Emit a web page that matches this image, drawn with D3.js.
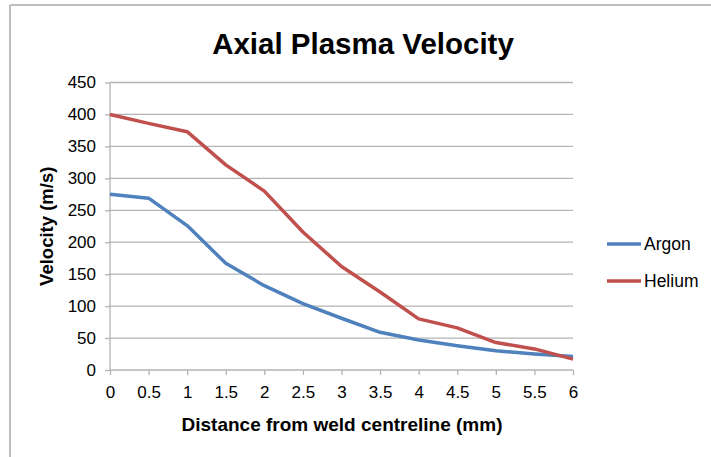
<!DOCTYPE html>
<html>
<head>
<meta charset="utf-8">
<script src="https://cdn.jsdelivr.net/npm/d3@7"></script>
<style>
  html, body { margin: 0; padding: 0; background: #fff; }
  svg { display: block; font-family: "Liberation Sans", Arial, sans-serif; }
</style>
</head>
<body>
<svg id="chart" width="711" height="457"></svg>
<script>
const distances = [0, 0.5, 1, 1.5, 2, 2.5, 3, 3.5, 4, 4.5, 5, 5.5, 6];
const argon  = [275, 269, 226, 167, 132, 104, 81, 59, 47, 38, 30, 25, 21];
const helium = [400, 386, 373, 321, 280, 216, 162, 122, 80, 66, 43, 33, 17];
const seriesNames = ["Argon", "Helium"];
const seriesColors = ["#4F81BD", "#C0504D"];
const yTicks = [0, 50, 100, 150, 200, 250, 300, 350, 400, 450];
const xTicks = [0, 0.5, 1, 1.5, 2, 2.5, 3, 3.5, 4, 4.5, 5, 5.5, 6];

const svg = d3.select("#chart");
const FONT = "Liberation Sans, Arial, sans-serif";

// outer frame (top & left visible)
svg.append("line").attr("x1", 10).attr("y1", 5).attr("x2", 711).attr("y2", 5)
  .attr("stroke", "#bdbdbd").attr("stroke-width", 2);
svg.append("line").attr("x1", 10).attr("y1", 5).attr("x2", 10).attr("y2", 457)
  .attr("stroke", "#bdbdbd").attr("stroke-width", 2);

const x = d3.scaleLinear().domain([0, 6]).range([110, 573]);
const y = d3.scaleLinear().domain([0, 450]).range([370, 82.5]);

// gridlines
svg.append("g").selectAll("line").data(yTicks.filter(d => d > 0)).join("line")
  .attr("x1", x(0)).attr("x2", x(6))
  .attr("y1", d => y(d)).attr("y2", d => y(d))
  .attr("stroke", "#b3b3b3").attr("stroke-width", 1.3);

// y axis
const yAxis = svg.append("g").attr("transform", `translate(${x(0)},0)`)
  .call(d3.axisLeft(y).tickValues(yTicks).tickSize(5).tickPadding(9).tickFormat(d3.format("d")));
yAxis.select(".domain").attr("stroke", "#b3b3b3").attr("stroke-width", 1.3).attr("d", `M0,${y(450)}V${y(0)}`);
yAxis.selectAll(".tick line").attr("stroke", "#b3b3b3").attr("stroke-width", 1.3);
yAxis.selectAll(".tick text").attr("font-size", 17).attr("fill", "#000").attr("font-family", FONT);

// x axis
const xAxis = svg.append("g").attr("transform", `translate(0,${y(0)})`)
  .call(d3.axisBottom(x).tickValues(xTicks).tickSize(5).tickPadding(11).tickFormat(d => String(d)));
xAxis.select(".domain").attr("stroke", "#b3b3b3").attr("stroke-width", 1.3).attr("d", `M${x(0)},0H${x(6)}`);
xAxis.selectAll(".tick line").attr("stroke", "#b3b3b3").attr("stroke-width", 1.3);
xAxis.selectAll(".tick text").attr("font-size", 17).attr("fill", "#000").attr("font-family", FONT);

// lines
const line = d3.line().x((d, i) => x(distances[i])).y(d => y(d));
[argon, helium].forEach((s, k) => {
  svg.append("path").datum(s).attr("d", line)
    .attr("fill", "none").attr("stroke", seriesColors[k])
    .attr("stroke-width", 3.5).attr("stroke-linejoin", "round");
});

// title
svg.append("text").attr("x", 363).attr("y", 54).attr("text-anchor", "middle")
  .attr("font-size", 29.5).attr("font-weight", "bold").text("Axial Plasma Velocity");

// axis titles
svg.append("text").attr("x", 342).attr("y", 431).attr("text-anchor", "middle")
  .attr("font-size", 19).attr("font-weight", "bold").text("Distance from weld centreline (mm)");
svg.append("text").attr("transform", `translate(53,${(y(0) + y(450)) / 2}) rotate(-90)`)
  .attr("text-anchor", "middle").attr("font-size", 18.5).attr("font-weight", "bold")
  .text("Velocity (m/s)");

// legend
const leg = svg.append("g");
seriesNames.forEach((n, k) => {
  const ly = 244 + k * 37;
  leg.append("line").attr("x1", 607).attr("x2", 641).attr("y1", ly).attr("y2", ly)
    .attr("stroke", seriesColors[k]).attr("stroke-width", 3.5);
  leg.append("text").attr("x", 644).attr("y", ly + 6).attr("font-size", 17.5).text(n);
});
</script>
</body>
</html>
